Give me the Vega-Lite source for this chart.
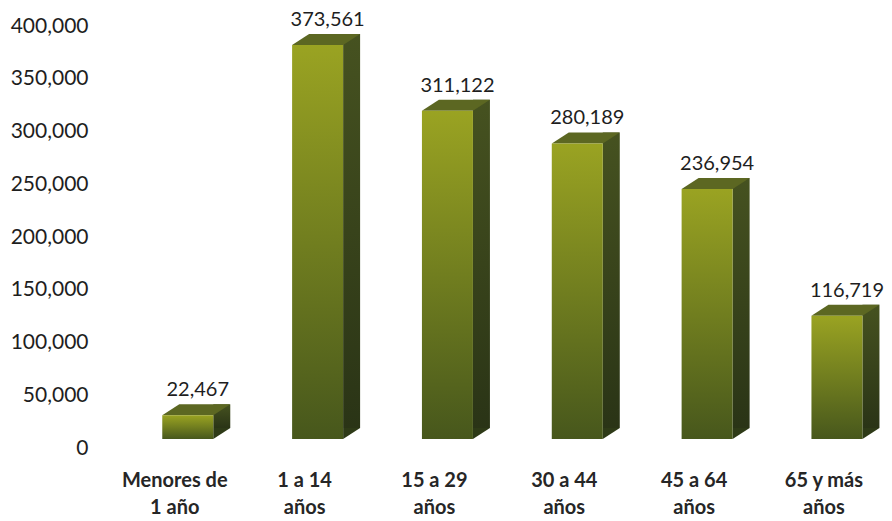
{
  "$schema": "https://vega.github.io/schema/vega-lite/v6.json",
  "width": 792,
  "height": 422,
  "autosize": {"type": "none"},
  "padding": {"left": 100, "top": 17, "right": 0, "bottom": 82},
  "background": "#ffffff",
  "config": {"view": {"stroke": null}, "font": "Lato"},
  "data": {
    "values": [
      {"grupo": "Menores de 1 año", "valor": 22467},
      {"grupo": "1 a 14 años", "valor": 373561},
      {"grupo": "15 a 29 años", "valor": 311122},
      {"grupo": "30 a 44 años", "valor": 280189},
      {"grupo": "45 a 64 años", "valor": 236954},
      {"grupo": "65 y más años", "valor": 116719}
    ]
  },
  "encoding": {
    "x": {
      "field": "grupo",
      "type": "nominal",
      "sort": null,
      "scale": {"paddingInner": 0.6, "paddingOuter": 0.35, "align": 0.68},
      "axis": {
        "title": null,
        "domain": false,
        "ticks": false,
        "labelAngle": 0,
        "labelFont": "Lato",
        "labelFontSize": 20,
        "labelFontWeight": "bold",
        "labelColor": "#262626",
        "labelPadding": 31,
        "labelOffset": -13,
        "labelLineHeight": 27,
        "labelExpr": "datum.label == 'Menores de 1 año' ? ['Menores de', '1 año'] : datum.label == '65 y más años' ? ['65 y más', 'años'] : [replace(datum.label, ' años', ''), 'años']"
      }
    },
    "y": {
      "field": "valor",
      "type": "quantitative",
      "scale": {"domain": [0, 400000], "nice": false},
      "axis": {
        "title": null,
        "domain": false,
        "ticks": false,
        "grid": false,
        "values": [0, 50000, 100000, 150000, 200000, 250000, 300000, 350000, 400000],
        "format": ",d",
        "labelFont": "Lato",
        "labelFontSize": 21,
        "labelColor": "#1e1e1e",
        "labelPadding": 12,
        "labelOffset": 9
      }
    }
  },
  "layer": [
    {
      "mark": {
        "type": "bar",
        "width": 17,
        "xOffset": 34,
        "yOffset": -11,
        "y2Offset": -11,
        "color": {
          "gradient": "linear", "x1": 0, "y1": 0, "x2": 0, "y2": 1,
          "stops": [{"offset": 0, "color": "#465220"}, {"offset": 1, "color": "#2a3416"}]
        }
      },
      "encoding": {"y2": {"datum": 0}}
    },
    {
      "mark": {
        "type": "point",
        "filled": true,
        "opacity": 1,
        "size": 4624,
        "strokeWidth": 0,
        "color": "#2e3a17",
        "shape": "M0.75,0L1.25,-0.324L0.75,-0.324Z"
      },
      "encoding": {"y": {"datum": 0}}
    },
    {
      "mark": {
        "type": "point",
        "filled": true,
        "opacity": 1,
        "size": 4624,
        "strokeWidth": 0,
        "color": "#5c6722",
        "shape": "M-0.75,0L0.75,0L1.25,-0.324L-0.25,-0.324Z"
      }
    },
    {
      "mark": {
        "type": "bar",
        "width": 51,
        "color": {
          "gradient": "linear", "x1": 0, "y1": 0, "x2": 0, "y2": 1,
          "stops": [{"offset": 0, "color": "#9aa322"}, {"offset": 0.5, "color": "#717e1f"}, {"offset": 1, "color": "#47571c"}]
        }
      }
    },
    {
      "mark": {
        "type": "text",
        "dx": 10,
        "dy": -25,
        "baseline": "middle",
        "font": "Lato",
        "fontSize": 20,
        "color": "#1e1e1e"
      },
      "encoding": {"text": {"field": "valor", "type": "quantitative", "format": ",d"}}
    }
  ]
}
